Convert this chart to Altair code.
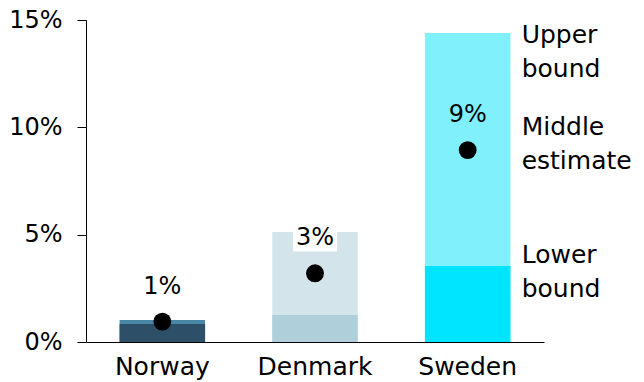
import altair as alt
import pandas as pd

countries = ["Norway", "Denmark", "Sweden"]
lower = [0.84, 1.26, 3.54]
middle = [0.95, 3.2, 8.94]
upper = [1.02, 5.12, 14.4]
labels = ["1%", "3%", "9%"]
label_box = [False, True, False]
y_ticks = [0, 5, 10, 15]

ann_text = ["Upper\nbound", "Middle\nestimate", "Lower\nbound"]
ann_y = [14.3, 10.0, 4.05]
ann_country = ["Sweden", "Sweden", "Sweden"]

upper_colors = ["#4A88A8", "#D3E4EB", "#80F1FC"]
lower_colors = ["#2D5068", "#AFCFDB", "#00E5FF"]

FONT = "DejaVu Sans"

df = pd.DataFrame({
    "country": countries,
    "lower": lower,
    "middle": middle,
    "upper": upper,
    "label": labels,
    "box": label_box,
})
ann = pd.DataFrame({"country": ann_country, "text": ann_text, "y": ann_y})

x = alt.X(
    "country:N",
    sort=countries,
    scale=alt.Scale(domain=countries, paddingInner=0.44, paddingOuter=0.22),
    axis=alt.Axis(
        title=None, labelAngle=0, ticks=False, domainColor="black",
        labelFontSize=25, labelPadding=12, labelColor="black", labelFont=FONT,
    ),
)
yscale = alt.Scale(domain=[0, 15], nice=False)
yaxis = alt.Axis(
    values=y_ticks, labelExpr="datum.value + '%'", tickSize=9,
    tickColor="black", domainColor="black", labelPadding=15, grid=False,
    title=None, labelFontSize=24, labelColor="black", labelFont=FONT,
)

base = alt.Chart(df)

upper_bar = base.mark_bar().encode(
    x=x,
    y=alt.Y("upper:Q", scale=yscale, axis=yaxis),
    color=alt.Color("country:N", scale=alt.Scale(domain=countries, range=upper_colors), legend=None),
)
lower_bar = base.mark_bar().encode(
    x=x,
    y=alt.Y("lower:Q", scale=yscale),
    fill=alt.Fill("country:N", scale=alt.Scale(domain=countries, range=lower_colors), legend=None),
)
dots = base.mark_circle(size=320, color="black", opacity=1).encode(
    x=x, y=alt.Y("middle:Q", scale=yscale)
)
boxes = base.transform_filter("datum.box").mark_point(
    shape="M-1,-0.6H1V0.6H-1Z", size=1936, filled=True, fill="white",
    opacity=1, strokeWidth=0, yOffset=-35,
).encode(x=x, y=alt.Y("middle:Q", scale=yscale))
texts = base.mark_text(
    dy=-35, baseline="middle", fontSize=24, font=FONT, color="black"
).encode(x=x, y=alt.Y("middle:Q", scale=yscale), text="label:N")

annot = alt.Chart(ann).mark_text(
    align="left", baseline="middle", dx=54, fontSize=25, font=FONT,
    color="black", lineBreak="\n", lineHeight=34,
).encode(x=x, y=alt.Y("y:Q", scale=yscale), text="text:N")

chart = alt.layer(upper_bar, lower_bar, dots, boxes, texts, annot).properties(
    width=458, height=322,
    autosize=alt.AutoSizeParams(type="none"),
    padding={"left": 86, "top": 20, "right": 100, "bottom": 40},
).resolve_scale(color="independent").configure_view(stroke=None)

chart.save("out.html", embed_options={"renderer": "svg", "actions": False})
